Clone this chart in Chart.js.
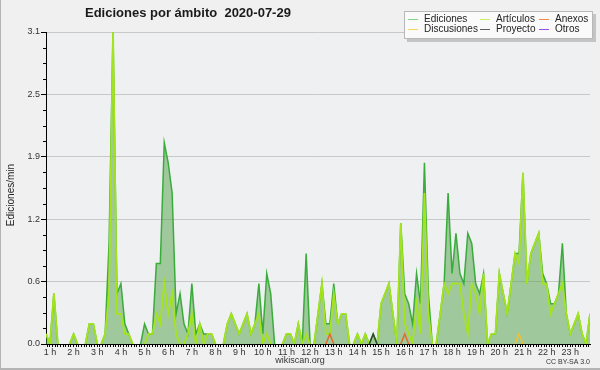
<!DOCTYPE html>
<html><head><meta charset="utf-8">
<script src="https://cdn.jsdelivr.net/npm/chart.js@4.4.0/dist/chart.umd.min.js"></script>
<style>html,body{margin:0;padding:0;background:#f0f0f0;}canvas{display:block;}</style>
</head><body>
<canvas id="c" width="600" height="370"></canvas>
<script>
// 10-minute slots from 00:50 to 23:50
const slotTimes = [];
for (let m = 50; m <= 23 * 60 + 50; m += 10) {
  slotTimes.push(String(Math.floor(m / 60)).padStart(2, '0') + ':' + String(m % 60).padStart(2, '0'));
}
const hourLabels = ['1 h','2 h','3 h','4 h','5 h','6 h','7 h','8 h','9 h','10 h','11 h','12 h','13 h','14 h','15 h','16 h','17 h','18 h','19 h','20 h','21 h','22 h','23 h'];
const yTickValues = [0, 0.62, 1.24, 1.86, 2.48, 3.1];
const yTickLabels = ['0.0', '0.6', '1.2', '1.9', '2.5', '3.1'];

const ediciones = [
0.1,0,0.5,0,0,0,0,0.1,0,0,
0,0.2,0.2,0,0,0.1,1.0,3.1,0.5,0.6,
0.2,0.1,0,0,0,0.2,0.1,0.1,0.8,0.8,
2.0,1.8,1.5,0.3,0.5,0.2,0.1,0.6,0.1,0.2,
0.1,0.1,0.1,0,0,0,0.2,0.3,0.2,0.1,
0.2,0.3,0.1,0.2,0.6,0.1,0.7,0.5,0,0,
0,0.1,0.1,0,0.2,0,0.9,0,0,0.3,
0.6,0.2,0.2,0.6,0.2,0.3,0.3,0,0,0.1,
0,0.1,0,0.1,0,0.4,0.5,0.6,0.3,0,
1.2,0.5,0.4,0.2,0.7,0.4,1.8,0.5,0,0,
0.3,0.6,1.5,0.7,1.1,0.7,0.6,1.1,1.0,0.6,
0.5,0.7,0,0.1,0.1,0.7,0.5,0.3,0.6,0.9,
0.9,1.7,0.6,0.9,1.0,1.1,0.7,0.6,0.4,0.4,
0.5,1.0,0.3,0.1,0.2,0.3,0.1,0,0.3
];
const articulos = [
0.1,0,0.5,0,0,0,0,0.1,0,0,
0,0.2,0.2,0,0,0.1,0.5,3.1,0.3,0.3,
0.1,0.1,0,0,0,0,0.1,0.1,0.3,0.2,
0.6,0.3,0.5,0.1,0,0,0.1,0.3,0,0.2,
0,0.1,0.1,0,0,0,0.2,0.3,0.2,0.1,
0.2,0.3,0.1,0.2,0.3,0,0.1,0,0,0,
0,0.1,0.1,0,0.2,0,0.1,0,0,0.3,
0.6,0.1,0.1,0.5,0.2,0.3,0.3,0,0,0.1,
0,0.1,0,0,0,0.4,0.5,0.6,0.3,0,
1.2,0.2,0.1,0,0.4,0.1,1.5,0.3,0,0,
0.3,0.6,0.5,0.6,0.6,0.6,0.3,0.1,0.6,0.5,
0.3,0.7,0,0.1,0.1,0.7,0.5,0.3,0.6,0.9,
0.8,1.7,0.6,0.9,1.0,1.1,0.6,0.6,0.3,0.4,
0.5,0.6,0.3,0.1,0.2,0.3,0.1,0,0.3
];
const anexos = [
0,0,0,0,0,0,0,0,0,0, 0,0,0,0,0,0,0,0,0,0, 0,0,0,0,0,0,0,0,0,0,
0,0,0,0,0,0,0,0,0,0, 0,0,0,0,0,0,0,0,0,0, 0,0,0,0,0,0,0,0,0,0,
0,0,0,0,0,0,0,0,0,0, 0,0,0.1,0,0,0,0,0,0,0, 0,0,0,0,0,0,0,0,0,0,
0,0.1,0,0,0,0,0,0,0,0, 0,0,0,0,0,0,0,0,0,0, 0,0,0,0,0,0,0,0,0,0,
0,0,0,0,0,0,0,0,0,0, 0,0,0,0,0,0,0,0,0
];
const discusiones = [
0,0,0,0,0,0,0,0,0,0, 0,0,0,0,0,0,0,0,0,0, 0,0,0,0,0,0,0,0,0,0,
0,0,0,0,0,0,0,0,0,0, 0,0,0,0,0,0,0,0,0,0, 0,0,0,0,0,0,0,0,0,0,
0,0,0,0,0,0,0,0,0,0, 0,0,0,0,0,0,0,0,0,0, 0,0,0,0,0,0,0,0,0,0,
0,0,0,0,0,0,0,0,0,0, 0,0,0,0,0,0,0,0,0,0, 0,0,0,0,0,0,0,0,0,0,
0.1,0,0,0,0,0,0,0,0,0, 0,0,0,0,0,0,0,0,0
];
const proyecto = [
0,0,0,0,0,0,0,0,0,0, 0,0,0,0,0,0,0,0,0,0, 0,0,0,0,0,0,0,0,0,0,
0,0,0,0,0,0,0,0,0,0, 0,0,0,0,0,0,0,0,0,0, 0,0,0,0,0,0,0,0,0,0,
0,0,0,0,0,0,0,0,0,0, 0,0,0,0,0,0,0,0,0,0, 0,0,0,0.1,0,0,0,0,0,0,
0,0,0,0,0,0,0,0,0,0, 0,0,0,0,0,0,0,0,0,0, 0,0,0,0,0,0,0,0,0,0,
0,0,0,0,0,0,0,0,0,0, 0,0,0,0,0,0,0,0,0
];
const otros = [
0,0,0,0,0,0,0,0,0,0, 0,0,0,0,0,0,0,0,0,0, 0,0,0,0,0,0,0,0,0,0,
0,0,0,0,0,0,0,0,0,0, 0,0,0,0,0,0,0,0,0,0, 0,0,0,0,0,0,0,0,0,0,
0,0,0,0,0,0,0,0,0,0, 0,0,0,0,0,0,0,0,0,0, 0,0,0,0,0,0,0,0,0,0,
0,0,0,0,0,0,0,0,0,0, 0,0,0,0,0,0,0,0,0,0, 0,0,0,0,0,0,0,0,0,0,
0,0,0,0,0,0,0,0,0,0, 0,0,0,0,0,0,0,0,0
];

const toXY = arr => arr.map((v, i) => ({ x: i, y: v }));
const hideZero = { borderColor: c => (c.p0.parsed.y === 0 && c.p1.parsed.y === 0) ? 'rgba(0,0,0,0)' : undefined };
const mk = (label, data, color, legendColor, width, order, extra) => Object.assign({
  label, data: toXY(data), borderColor: color, legendColor, borderWidth: width, order,
  pointRadius: 0, pointHoverRadius: 0, tension: 0, fill: false, segment: hideZero
}, extra || {});

const datasets = [
  mk('Ediciones', ediciones, '#3aac3a', '#84d084', 1.5, 6, { fill: 'origin', backgroundColor: 'rgba(80,160,70,0.5)' }),
  mk('Artículos', articulos, '#a4e41c', '#c8f060', 1.8, 5),
  mk('Anexos', anexos, '#e8682a', '#f08850', 1.5, 4),
  mk('Discusiones', discusiones, '#f0c030', '#f8d850', 1.5, 3),
  mk('Proyecto', proyecto, '#2e4a2e', '#606060', 1.5, 2),
  mk('Otros', otros, '#9040e0', '#9a50f0', 1.5, 1)
];

const decor = {
  id: 'decor',
  beforeDraw(chart) {
    const { ctx, chartArea: a } = chart;
    ctx.save();
    ctx.fillStyle = '#f0f0f0';
    ctx.fillRect(0, 0, chart.width, chart.height);
    ctx.fillStyle = '#eef0f2';
    ctx.fillRect(a.left, a.top, a.right - a.left, a.bottom - a.top);
    ctx.fillStyle = '#b4b4b4';
    ctx.fillRect(0, 0, 1, chart.height);
    ctx.fillRect(0, chart.height - 2, chart.width, 2);
    ctx.restore();
  },
  afterDraw(chart) {
    const { ctx, chartArea: a } = chart;
    const ys = chart.scales.y;
    ctx.save();
    // minor y ticks
    ctx.strokeStyle = '#000';
    ctx.lineWidth = 1;
    for (let j = 1; j < 20; j++) {
      if (j % 4 === 0) continue;
      const y = Math.round(ys.getPixelForValue(3.1 * j / 20)) + 0.5;
      ctx.beginPath(); ctx.moveTo(a.left - 3, y); ctx.lineTo(a.left, y); ctx.stroke();
    }
    // title
    ctx.fillStyle = '#1a1a1a';
    ctx.font = 'bold 13px "Liberation Sans"';
    ctx.textAlign = 'left'; ctx.textBaseline = 'middle';
    ctx.fillText('Ediciones por ámbito  2020-07-29', 85, 13.5);
    // y axis title
    ctx.save();
    ctx.translate(11, 195); ctx.rotate(-Math.PI / 2);
    ctx.font = '10px "Liberation Sans"'; ctx.fillStyle = '#222';
    ctx.textAlign = 'center'; ctx.textBaseline = 'middle';
    ctx.fillText('Ediciones/min', 0, 0);
    ctx.restore();
    // footer
    ctx.fillStyle = '#333';
    ctx.font = '9px "Liberation Sans"'; ctx.textAlign = 'center';
    ctx.fillText('wikiscan.org', 300, 361);
    ctx.font = '7px "Liberation Sans"'; ctx.textAlign = 'right';
    ctx.fillText('CC BY-SA 3.0', 590, 362);
    // legend
    const bx = 404, by = 11, bw = 189, bh = 28;
    ctx.fillStyle = '#c4c4c4';
    ctx.fillRect(bx + 3, by + 3, bw, bh);
    ctx.fillStyle = '#fafafa';
    ctx.fillRect(bx, by, bw, bh);
    ctx.strokeStyle = '#b8b8b8';
    ctx.strokeRect(bx + 0.5, by + 0.5, bw - 1, bh - 1);
    const cols = [408, 480, 539], rows = [19.5, 29.5];
    const layout = [[0, 0, 0], [1, 0, 1], [2, 0, 2], [3, 1, 0], [4, 1, 1], [5, 1, 2]];
    ctx.font = '10px "Liberation Sans"'; ctx.textAlign = 'left'; ctx.textBaseline = 'middle';
    layout.forEach(([di, r, c]) => {
      const ds = chart.data.datasets[di];
      const x = cols[c], y = rows[r];
      ctx.strokeStyle = ds.legendColor; ctx.lineWidth = 1;
      ctx.beginPath(); ctx.moveTo(x, y); ctx.lineTo(x + 10, y); ctx.stroke();
      ctx.fillStyle = '#222';
      ctx.fillText(ds.label, x + 16, y);
    });
    ctx.restore();
  }
};

new Chart(document.getElementById('c'), {
  type: 'line',
  data: { labels: slotTimes, datasets },
  options: {
    responsive: false, animation: false, devicePixelRatio: 1,
    layout: { padding: { top: 32, right: 10, left: 0, bottom: 0 } },
    plugins: { legend: { display: false }, tooltip: { enabled: false }, title: { display: false } },
    scales: {
      x: {
        type: 'linear', min: 0, max: slotTimes.length - 1,
        afterBuildTicks: s => {
          const t = [];
          for (let k = -1; ; k++) { const v = 1 + k * 2 / 3; if (v > s.max + 1e-6) break; t.push({ value: v }); }
          s.ticks = t;
        },
        afterFit: s => { s.height = 26; },
        grid: { display: true, drawOnChartArea: false, drawTicks: true, tickLength: 3, color: '#000', tickColor: '#000' },
        border: { display: true, color: '#000' },
        ticks: {
          autoSkip: false, maxRotation: 0, minRotation: 0, padding: 0, color: '#333',
          font: { family: 'Liberation Sans', size: 9 },
          callback: (v, i) => (i >= 1 && (i - 1) % 9 === 0) ? hourLabels[(i - 1) / 9] : ''
        }
      },
      y: {
        min: 0, max: 3.1,
        afterBuildTicks: s => { s.ticks = yTickValues.map(v => ({ value: v })); },
        afterFit: s => { s.width = 46; },
        grid: { color: c => (c.tick && c.tick.value === 0) ? 'rgba(0,0,0,0)' : '#c8c8c8', tickColor: '#000', tickLength: 5, drawTicks: true },
        border: { display: true, color: '#000' },
        ticks: { padding: 1, color: '#333', font: { family: 'Liberation Sans', size: 9 }, callback: (v, i) => yTickLabels[i] }
      }
    }
  },
  plugins: [decor]
});
</script>
</body></html>
